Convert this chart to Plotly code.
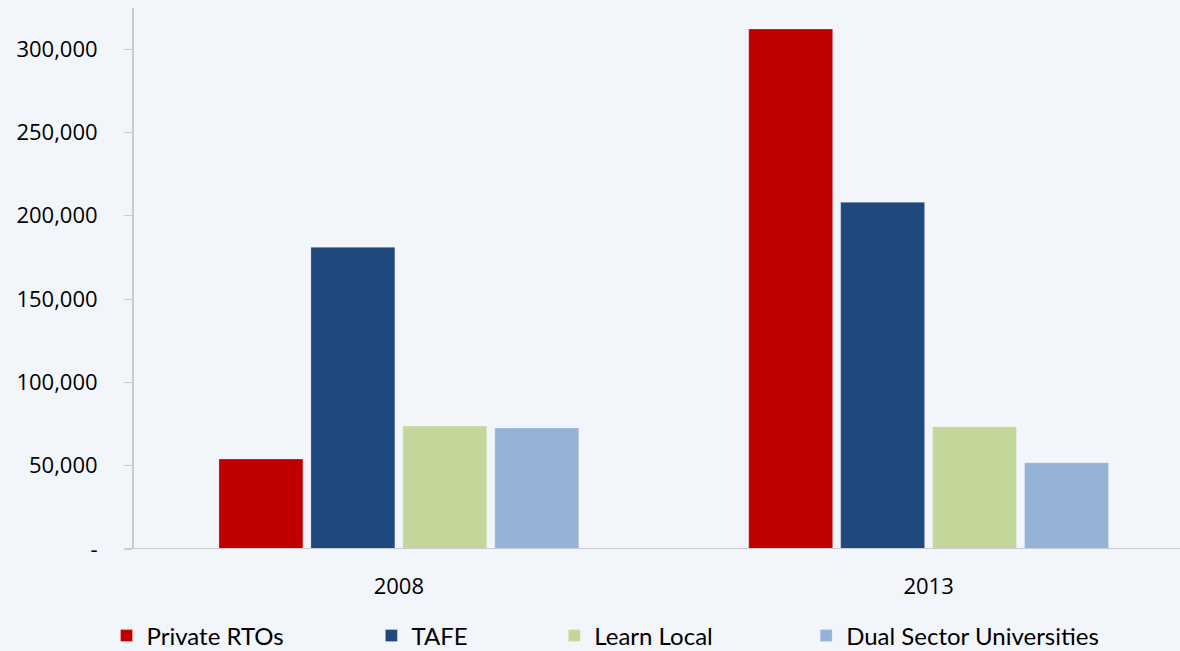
import plotly.graph_objects as go

years = ["2008", "2013"]
series_names = ["Private RTOs", "TAFE", "Learn Local", "Dual Sector Universities"]
private_rtos = [54000, 312000]
tafe = [181000, 208000]
learn_local = [73800, 73300]
dual_sector = [72600, 51700]
colors = ["#C00000", "#1F497D", "#C4D79B", "#95B3D7"]
y_ticks = [0, 50000, 100000, 150000, 200000, 250000, 300000]
y_tick_labels = ["-", "50,000", "100,000", "150,000", "200,000", "250,000", "300,000"]

values = [private_rtos, tafe, learn_local, dual_sector]
xpos = [0, 1]
bg = "#F2F5FA"

fig = go.Figure()
legend_text_px = [147, 412, 595, 847]
plot_left = 133.5
plot_top = 8
plot_bottom = 549
plot_w = 1180 - plot_left
plot_h = plot_bottom - plot_top
for i, (name, vals, col) in enumerate(zip(series_names, values, colors)):
    lg = "legend" if i == 0 else f"legend{i+1}"
    fig.add_trace(go.Bar(x=xpos, y=vals, name=name, marker_color=col,
                         marker_line=dict(color="rgba(255,255,255,0.25)", width=1),
                         legend=lg, hoverinfo="y+name"))

layout_legends = {}
for i, px in enumerate(legend_text_px):
    key = "legend" if i == 0 else f"legend{i+1}"
    layout_legends[key] = dict(x=(px - 41 - plot_left) / plot_w, xanchor="left",
                               y=-(636 - plot_bottom) / plot_h, yanchor="middle",
                               orientation="h", bgcolor="rgba(0,0,0,0)",
                               font=dict(family="Lato", size=24, color="#000"),
                               itemwidth=30)

fig.update_layout(
    width=1180, height=651,
    paper_bgcolor=bg, plot_bgcolor=bg,
    margin=dict(l=plot_left, r=0, t=plot_top, b=651 - plot_bottom, autoexpand=False),
    barmode="group", bargap=0.3057, bargroupgap=0.087,
    showlegend=True,
    xaxis=dict(range=[-0.5, -0.5 + plot_w / 530], tickvals=xpos, ticktext=years,
               showgrid=False, zeroline=False, showline=False, ticks="",
               ticklabelstandoff=22,
               tickfont=dict(family="Open Sans", size=22, color="#000")),
    yaxis=dict(range=[0, 324600], tickvals=y_ticks, ticktext=y_tick_labels,
               showgrid=False, zeroline=False, showline=True, linecolor="#C8CCD2",
               linewidth=2, ticks="outside", ticklen=8, tickcolor="#C8CCD2",
               tickwidth=1, ticklabelstandoff=22,
               tickfont=dict(family="Open Sans", size=22, color="#000")),
    **layout_legends,
)
fig.add_shape(type="line", xref="paper", yref="y", x0=-0.009, x1=1, y0=0, y1=0,
              line=dict(color="#C8CCD2", width=2))
fig.write_html("out.html", config={"displayModeBar": False},
               post_script="document.body.style.margin='0';document.body.style.overflow='hidden';")
